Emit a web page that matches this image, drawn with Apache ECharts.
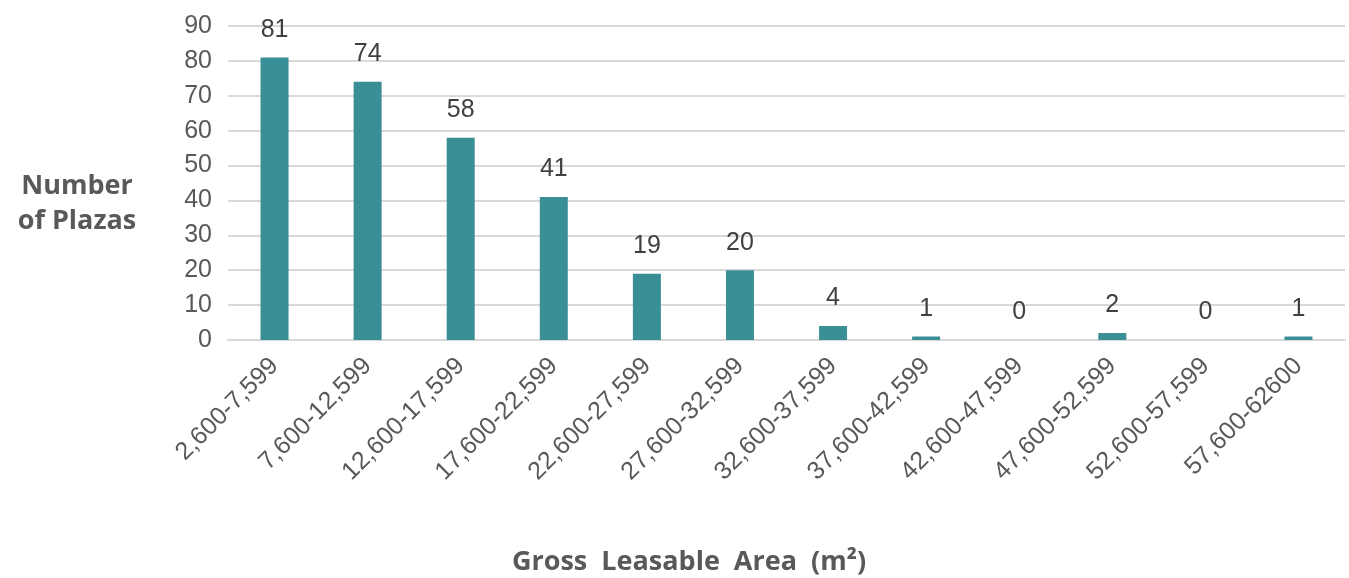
<!DOCTYPE html>
<html>
<head>
<meta charset="utf-8">
<script src="https://cdn.jsdelivr.net/npm/echarts@6/dist/echarts.min.js"></script>
<style>
  html, body { margin: 0; padding: 0; background: #ffffff; }
  #chart { width: 1349px; height: 578px; }
</style>
</head>
<body>
<div id="chart"></div>
<script>
// Gross leasable area bands (m²)
const categories = [
  '2,600-7,599', '7,600-12,599', '12,600-17,599', '17,600-22,599',
  '22,600-27,599', '27,600-32,599', '32,600-37,599', '37,600-42,599',
  '42,600-47,599', '47,600-52,599', '52,600-57,599', '57,600-62600'
];
// Number of plazas in each band
const plazaCounts = [81, 74, 58, 41, 19, 20, 4, 1, 0, 2, 0, 1];
// Value axis ticks
const yMin = 0;
const yMax = 90;
const yStep = 10;

const chart = echarts.init(document.getElementById('chart'), null, { renderer: 'canvas' });

const labelFont = '"Liberation Sans", Arial, sans-serif';
const titleFont = '"Open Sans", "Noto Sans", sans-serif';

chart.setOption({
  animation: false,
  backgroundColor: '#ffffff',
  title: [
    {
      text: 'Number\nof Plazas',
      left: 72,
      top: 164,
      textAlign: 'center',
      textStyle: {
        fontFamily: titleFont,
        fontWeight: 'bold',
        fontSize: 27,
        lineHeight: 35,
        color: '#595959',
        align: 'center'
      }
    },
    {
      text: 'Gross  Leasable  Area  (m²)',
      left: 684,
      top: 544,
      textAlign: 'center',
      textStyle: {
        fontFamily: titleFont,
        fontWeight: 'bold',
        fontSize: 27,
        color: '#595959'
      }
    }
  ],
  grid: {
    left: 228,
    right: 4,
    top: 26,
    bottom: 238,
    containLabel: false
  },
  xAxis: {
    type: 'category',
    data: categories,
    axisLine: { show: true, lineStyle: { color: '#d9d9d9', width: 2 } },
    axisTick: { show: false },
    axisLabel: {
      rotate: 45,
      margin: 22,
      interval: 0,
      fontFamily: labelFont,
      fontSize: 25,
      color: '#595959'
    }
  },
  yAxis: {
    type: 'value',
    min: yMin,
    max: yMax,
    interval: yStep,
    axisLine: { show: false },
    axisTick: { show: false },
    splitLine: { show: true, lineStyle: { color: '#d9d9d9', width: 2 } },
    axisLabel: {
      margin: 16,
      fontFamily: labelFont,
      fontSize: 25,
      color: '#595959'
    }
  },
  series: [
    {
      type: 'bar',
      data: plazaCounts,
      barWidth: 28,
      itemStyle: { color: '#3a8e96' },
      label: {
        show: true,
        position: 'top',
        distance: 15,
        fontFamily: labelFont,
        fontSize: 25,
        color: '#404040'
      }
    }
  ]
});
</script>
</body>
</html>
